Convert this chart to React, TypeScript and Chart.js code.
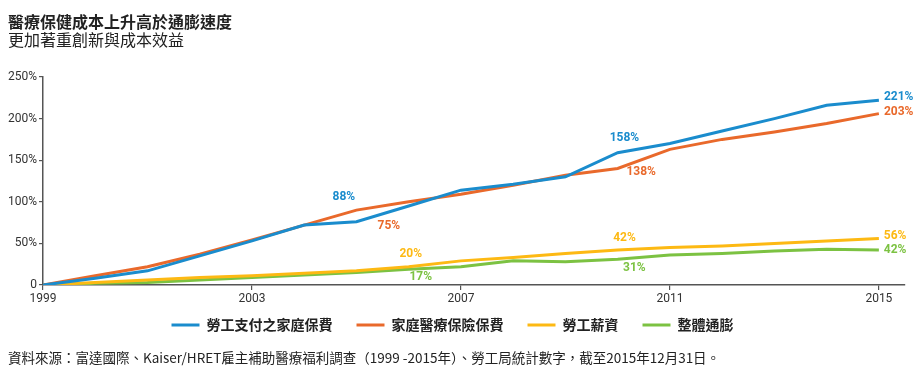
import React, { useEffect, useRef } from "react";
import { Chart, registerables } from "chart.js";

Chart.register(...registerables);

const years = [1999, 2000, 2001, 2002, 2003, 2004, 2005, 2006, 2007, 2008, 2009, 2010, 2011, 2012, 2013, 2014, 2015];
const employeeContribution = [0, 8, 17, 35, 53, 72, 76, 95, 114, 121, 130, 159, 170, 185, 200, 216, 222];
const familyPremium = [0, 11, 22, 37, 54, 72, 90, 100, 109, 120, 132, 140, 163, 175, 184, 194, 206];
const workerWages = [0, 3, 6, 9, 11, 14, 17, 22, 29, 33, 38, 42, 45, 47, 50, 53, 56];
const overallInflation = [0, 2, 3, 6, 9, 12, 15, 19, 22, 29, 28, 31, 36, 38, 41, 43, 42];

const seriesNames = ["勞工支付之家庭保費", "家庭醫療保險保費", "勞工薪資", "整體通膨"];
const seriesColors = ["#1a8ccd", "#e9692b", "#fdb913", "#7cc242"];

const xTickValues = [1999, 2003, 2007, 2011, 2015];
const yTickValues = [0, 50, 100, 150, 200, 250];

// value annotations: text, series index, anchor (year, value)
const noteTexts = ["88%", "75%", "20%", "17%", "158%", "138%", "42%", "31%", "221%", "203%", "56%", "42%"];
const noteSeries = [0, 1, 2, 3, 0, 1, 2, 3, 0, 1, 2, 3];
const noteYears = [2004.76, 2005.62, 2006.04, 2006.23, 2010.13, 2010.45, 2010.13, 2010.32, 2015.38, 2015.38, 2015.31, 2015.31];
const noteValues = [105.6, 70.4, 37.6, 9.7, 177, 136, 57, 20.6, 225.7, 207.5, 58.3, 42.5];

const titleText = "醫療保健成本上升高於通膨速度";
const subtitleText = "更加著重創新與成本效益";
const sourceText = "資料來源：富達國際、Kaiser/HRET雇主補助醫療福利調查（1999 -2015年）、勞工局統計數字，截至2015年12月31日。";

const CJK = "'Noto Sans CJK TC', 'Noto Sans', sans-serif";

const notesPlugin = {
  id: "notes",
  afterDatasetsDraw(chart: any) {
    const { ctx, scales } = chart;
    ctx.save();
    ctx.font = "bold 12px Roboto, sans-serif";
    ctx.textAlign = "center";
    ctx.textBaseline = "middle";
    noteTexts.forEach((t, i) => {
      ctx.fillStyle = seriesColors[noteSeries[i]];
      ctx.fillText(t, scales.x.getPixelForValue(noteYears[i]), scales.y.getPixelForValue(noteValues[i]));
    });
    ctx.restore();
  },
};

export default function App() {
  const ref = useRef<HTMLCanvasElement | null>(null);
  useEffect(() => {
    if (!ref.current) return;
    const all = [employeeContribution, familyPremium, workerWages, overallInflation];
    const chart = new Chart(ref.current, {
      type: "line",
      data: {
        datasets: all.map((arr, i) => ({
          label: seriesNames[i],
          data: years.map((y, j) => ({ x: y, y: arr[j] })),
          borderColor: seriesColors[i],
          backgroundColor: seriesColors[i],
          borderWidth: 3,
          pointRadius: 0,
          tension: 0,
          order: i,
        })),
      },
      options: {
        animation: false,
        responsive: false,
        maintainAspectRatio: false,
        layout: { padding: { top: 77, left: 0, right: 15, bottom: 38 } },
        plugins: {
          tooltip: { enabled: false },
          legend: {
            position: "bottom",
            labels: {
              boxWidth: 28,
              boxHeight: 3,
              padding: 10,
              color: "#222",
              font: { family: CJK, size: 14, weight: "bold" },
              generateLabels: (c: any) => {
                const base = Chart.defaults.plugins.legend.labels.generateLabels(c);
                return base.map((it: any, i: number) => ({
                  ...it,
                  text: i < base.length - 1 ? it.text + "　" : it.text,
                  lineWidth: 0,
                }));
              },
            },
          },
        },
        scales: {
          x: {
            type: "linear",
            min: 1999,
            max: 2015.5,
            afterBuildTicks: (s: any) => {
              s.ticks = xTickValues.map((v) => ({ value: v }));
            },
            afterFit: (s: any) => {
              s.height = 23;
            },
            ticks: {
              color: "#333",
              font: { family: "Roboto, sans-serif", size: 12 },
              padding: 2,
              maxRotation: 0,
              callback: (v: any) => String(v),
            },
            grid: { display: true, drawOnChartArea: false, tickLength: 5, color: "#555", lineWidth: 1.2 },
            border: { color: "#555", width: 1.5 },
          },
          y: {
            min: 0,
            max: 250,
            afterBuildTicks: (s: any) => {
              s.ticks = yTickValues.map((v) => ({ value: v }));
            },
            afterFit: (s: any) => {
              s.width = 43;
            },
            ticks: {
              color: "#333",
              font: { family: "Roboto, sans-serif", size: 12 },
              padding: 2,
              callback: (v: any) => (v === 0 ? "0" : v + "%"),
            },
            grid: { display: true, drawOnChartArea: false, tickLength: 4, color: "#555", lineWidth: 1.2 },
            border: { color: "#555", width: 1.5 },
          },
        },
      },
      plugins: [notesPlugin],
    });
    return () => chart.destroy();
  }, []);

  return (
    <div style={{ position: "absolute", left: 0, top: 0, width: 920, height: 380, background: "#fff" }}>
      <canvas ref={ref} width={920} height={380} style={{ position: "absolute", left: 0, top: 0 }} />
      <div style={{ position: "absolute", left: 8, top: 12, fontFamily: CJK, fontSize: 16, fontWeight: 700, lineHeight: "18px", color: "#222", whiteSpace: "nowrap" }}>
        {titleText}
      </div>
      <div style={{ position: "absolute", left: 8, top: 30, fontFamily: CJK, fontSize: 16, lineHeight: "19px", color: "#222", whiteSpace: "nowrap" }}>
        {subtitleText}
      </div>
      <div style={{ position: "absolute", left: 8, top: 349, fontFamily: CJK, fontSize: 13.5, lineHeight: "16px", color: "#222", whiteSpace: "nowrap" }}>
        {sourceText}
      </div>
    </div>
  );
}
